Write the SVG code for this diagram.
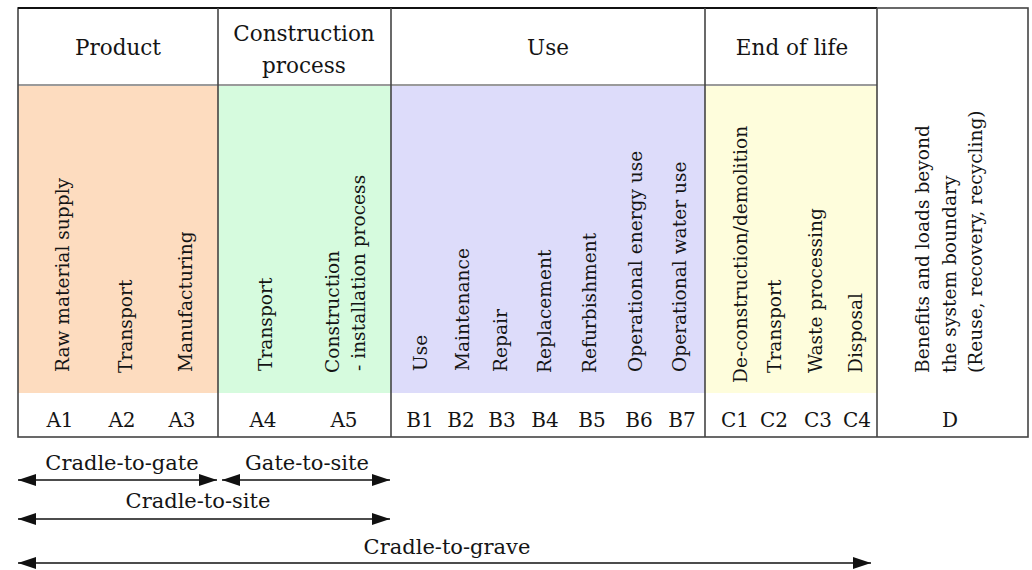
<svg xmlns="http://www.w3.org/2000/svg" width="1032" height="570" viewBox="0 0 1032 570">
<style>
text{font-family:"DejaVu Serif","Liberation Serif",serif;fill:#141414}
.hd{font-size:21.5px;text-anchor:middle}
.cd{font-size:20px;text-anchor:middle}
.vt{font-size:18.6px;text-anchor:start}
.lb{font-size:21px;text-anchor:middle}
.div{stroke:#444;stroke-width:1.6;fill:none}
.hl{stroke:#9a9a9a;stroke-width:2}
.arr{stroke:#111;stroke-width:1.6;fill:none;marker-start:url(#ah);marker-end:url(#ah)}
</style>
<defs>
<marker id="ah" markerUnits="userSpaceOnUse" markerWidth="19" markerHeight="14" viewBox="0 0 19 14" refX="18" refY="7" orient="auto-start-reverse">
<path d="M0,1 L18,7 L0,13 Z" fill="#111"/>
</marker>
</defs>
<rect x="0" y="0" width="1032" height="570" fill="#fff"/>

<g id="product">
<rect x="18" y="85" width="200" height="308" fill="#fddcbf"/>
<text class="hd" x="118" y="55">Product</text>
<text class="vt" transform="translate(69,372) rotate(-90)">Raw material supply</text>
<text class="vt" transform="translate(132,373) rotate(-90)">Transport</text>
<text class="vt" transform="translate(192,372) rotate(-90)">Manufacturing</text>
<text class="cd" x="60" y="427">A1</text>
<text class="cd" x="122" y="427">A2</text>
<text class="cd" x="182" y="427">A3</text>
</g>

<g id="construction">
<rect x="218" y="85" width="173" height="308" fill="#d6fbde"/>
<text class="hd" x="304" y="41">Construction</text>
<text class="hd" x="304" y="73">process</text>
<text class="vt" transform="translate(272,371) rotate(-90)">Transport</text>
<text class="vt" transform="translate(339,373) rotate(-90)">Construction</text>
<text class="vt" transform="translate(365,371) rotate(-90)">- installation process</text>
<text class="cd" x="263" y="427">A4</text>
<text class="cd" x="344" y="427">A5</text>
</g>

<g id="use">
<rect x="391" y="85" width="314" height="308" fill="#dddcfa"/>
<text class="hd" x="548" y="55">Use</text>
<text class="vt" transform="translate(427,371) rotate(-90)">Use</text>
<text class="vt" transform="translate(469,371) rotate(-90)">Maintenance</text>
<text class="vt" transform="translate(507,372) rotate(-90)">Repair</text>
<text class="vt" transform="translate(551,373) rotate(-90)">Replacement</text>
<text class="vt" transform="translate(596,373) rotate(-90)">Refurbishment</text>
<text class="vt" transform="translate(642,372) rotate(-90)">Operational energy use</text>
<text class="vt" transform="translate(686,372) rotate(-90)">Operational water use</text>
<text class="cd" x="420" y="427">B1</text>
<text class="cd" x="461" y="427">B2</text>
<text class="cd" x="502" y="427">B3</text>
<text class="cd" x="545" y="427">B4</text>
<text class="cd" x="592" y="427">B5</text>
<text class="cd" x="639" y="427">B6</text>
<text class="cd" x="682" y="427">B7</text>
</g>

<g id="end-of-life">
<rect x="705" y="85" width="172" height="308" fill="#fefddc"/>
<text class="hd" x="792" y="55">End of life</text>
<text class="vt" transform="translate(747,383) rotate(-90)">De-construction/demolition</text>
<text class="vt" transform="translate(781,373) rotate(-90)">Transport</text>
<text class="vt" transform="translate(822,373) rotate(-90)">Waste processing</text>
<text class="vt" transform="translate(862,373) rotate(-90)">Disposal</text>
<text class="cd" x="735" y="427">C1</text>
<text class="cd" x="774" y="427">C2</text>
<text class="cd" x="818" y="427">C3</text>
<text class="cd" x="857" y="427">C4</text>
</g>

<g id="beyond">
<text class="vt" transform="translate(929,373) rotate(-90)">Benefits and loads beyond</text>
<text class="vt" transform="translate(956,373) rotate(-90)">the system boundary</text>
<text class="vt" transform="translate(982,373) rotate(-90)">(Reuse, recovery, recycling)</text>
<text class="cd" x="950" y="427">D</text>
</g>

<g id="grid">
<line class="hl" x1="18" y1="85" x2="877" y2="85"/>
<rect class="div" x="18" y="8" width="1010" height="429" stroke="#555"/>
<line x1="18" y1="8" x2="877" y2="8" stroke="#111" stroke-width="2"/>
<line class="div" x1="218" y1="8" x2="218" y2="437"/>
<line class="div" x1="391" y1="8" x2="391" y2="437"/>
<line class="div" x1="705" y1="8" x2="705" y2="437"/>
<line class="div" x1="877" y1="8" x2="877" y2="437"/>
</g>

<g id="connectors">
<line class="arr" x1="18" y1="480" x2="217" y2="480"/>
<line class="arr" x1="222" y1="480" x2="390" y2="480"/>
<line class="arr" x1="18" y1="519" x2="390" y2="519"/>
<line class="arr" x1="18" y1="563" x2="871" y2="563"/>
</g>

<g id="scope-labels">
<text class="lb" x="122" y="470">Cradle-to-gate</text>
<text class="lb" x="307" y="470">Gate-to-site</text>
<text class="lb" x="198" y="508">Cradle-to-site</text>
<text class="lb" x="447" y="554">Cradle-to-grave</text>
</g>
</svg>
